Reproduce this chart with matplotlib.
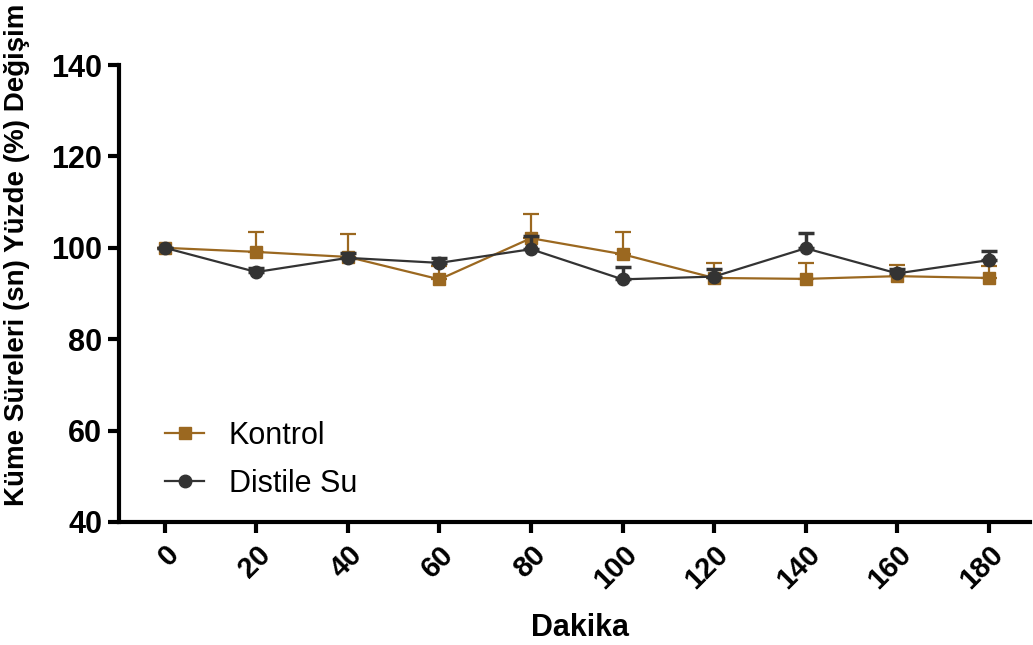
import numpy as np
import matplotlib
matplotlib.use("Agg")
import matplotlib.pyplot as plt
from matplotlib.lines import Line2D

plt.rcParams["font.family"] = ["Liberation Sans", "DejaVu Sans"]

minutes = [0, 20, 40, 60, 80, 100, 120, 140, 160, 180]

kontrol_mean = [100.0, 99.1, 98.0, 93.1, 102.1, 98.6, 93.4, 93.2, 93.8, 93.4]
kontrol_err = [0.0, 4.4, 5.0, 3.0, 5.3, 4.8, 3.3, 3.5, 2.4, 2.6]

distile_mean = [100.0, 94.7, 97.8, 96.7, 99.7, 93.1, 93.7, 99.9, 94.4, 97.3]
distile_err = [0.0, 0.9, 1.1, 1.0, 2.8, 2.6, 1.7, 3.4, 1.0, 1.9]

BROWN = "#9B6820"
DARK = "#333333"

fig = plt.figure(figsize=(10.33, 6.45), dpi=100)
ax = fig.add_axes([0.1152, 0.1907, 0.8818, 0.7085])

# upper-only error bars, GraphPad style
ax.errorbar(minutes, kontrol_mean, yerr=[np.zeros(len(kontrol_err)), kontrol_err],
            color=BROWN, marker="s", markersize=9, lw=1.6, capsize=6,
            capthick=1.6, elinewidth=1.6, zorder=2)
ax.errorbar(minutes, distile_mean, yerr=[np.zeros(len(distile_err)), distile_err],
            color=DARK, marker="o", markersize=9, lw=1.6, capsize=6,
            capthick=2.5, elinewidth=2.5, zorder=3)

ax.set_xlim(-10, 189)
ax.set_ylim(40, 140)
ax.set_xticks(minutes)
ax.set_yticks([40, 60, 80, 100, 120, 140])
ax.set_xticklabels([str(m) for m in minutes], rotation=45, ha="right",
                   rotation_mode="anchor", fontsize=21, fontweight="bold")
ax.set_yticklabels(["40", "60", "80", "100", "120", "140"], fontsize=22,
                   fontweight="bold")

for s in ["top", "right"]:
    ax.spines[s].set_visible(False)
for s in ["left", "bottom"]:
    ax.spines[s].set_linewidth(3)
ax.tick_params(axis="both", width=3, length=8, direction="out", pad=4)
ax.tick_params(axis="x", pad=5)

ax.set_xlabel("Dakika", fontsize=22, fontweight="bold")
ax.xaxis.set_label_coords(0.506, -0.2)
ax.set_ylabel("Küme Süreleri (sn) Yüzde (%) Değişim", fontsize=20,
              fontweight="bold")
ax.yaxis.set_label_coords(-0.098, 0.585)

handles = [
    Line2D([], [], color=BROWN, marker="s", markersize=9, lw=1.6),
    Line2D([], [], color=DARK, marker="o", markersize=9, lw=1.6),
]
ax.legend(handles, ["Kontrol", "Distile Su"], loc="lower left",
          bbox_to_anchor=(0.02, -0.01), frameon=False, fontsize=22,
          handlelength=1.3, handletextpad=0.8, labelspacing=0.6)

fig.savefig("out.png", dpi=100)
